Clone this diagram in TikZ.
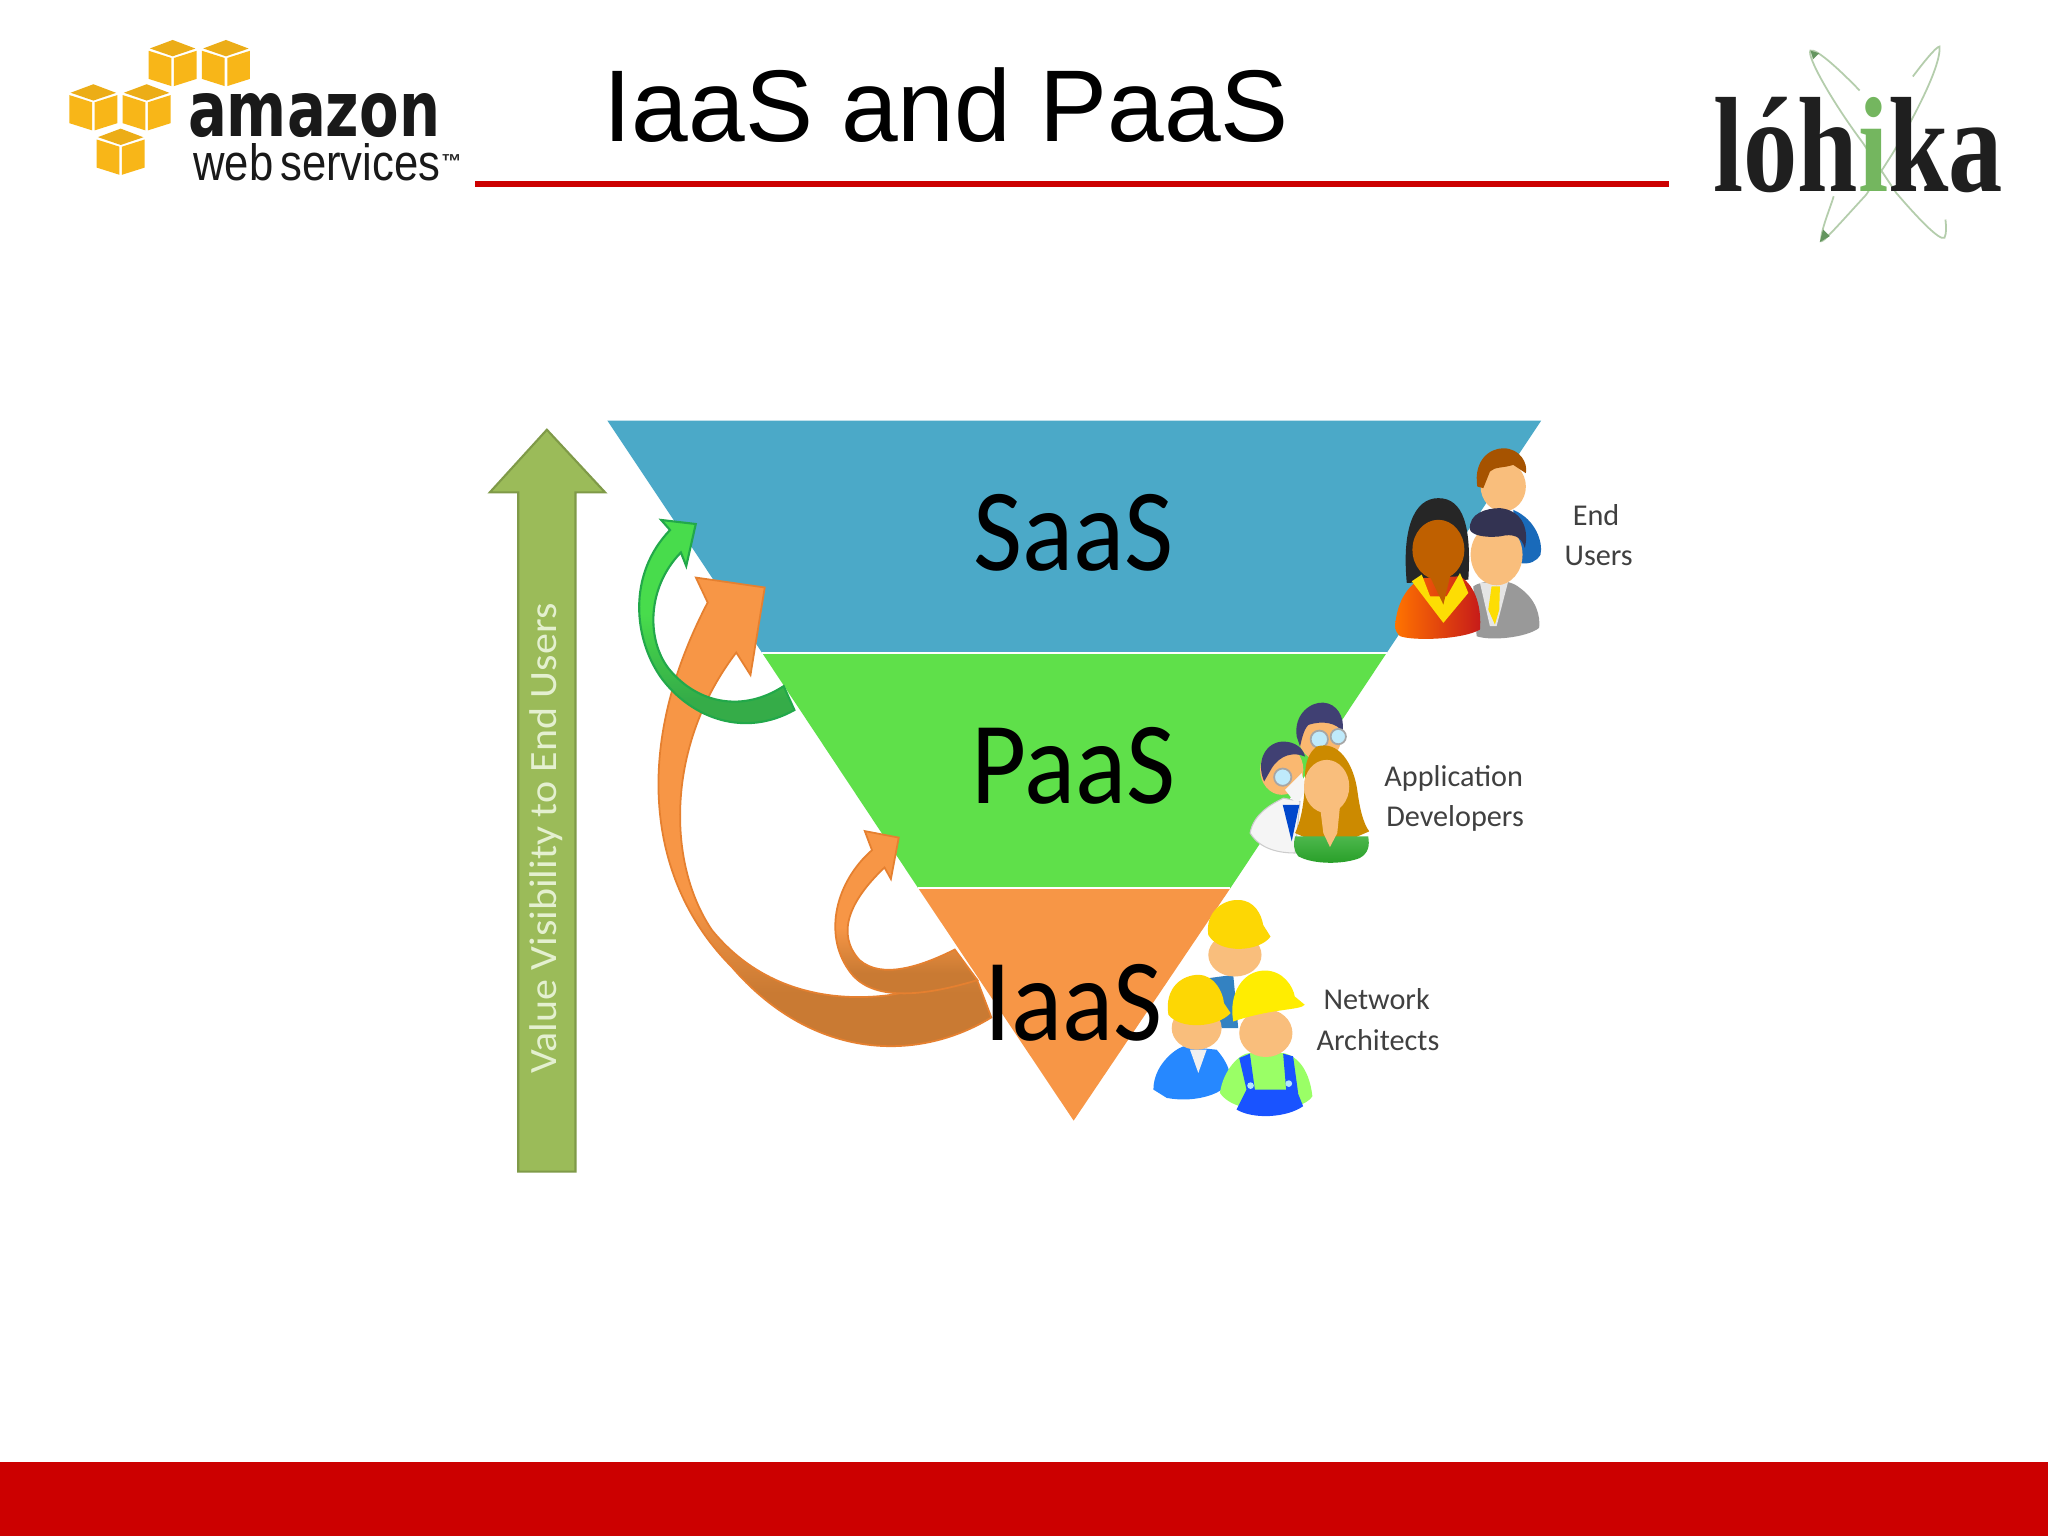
\documentclass[tikz,border=0pt]{standalone}
\usepackage{graphicx}
\usepackage{fontspec}
\setmainfont{Liberation Sans}
\newfontfamily\carl{Carlito}
\newfontfamily\lserif{Liberation Serif}
\newfontfamily\djv{DejaVu Sans}
\definecolor{saas}{HTML}{4BA9C8}
\definecolor{paas}{HTML}{5FE04A}
\definecolor{iaas}{HTML}{F79646}
\definecolor{iaasdk}{HTML}{C97A33}
\definecolor{iaasln}{HTML}{E58030}
\definecolor{grnhi}{HTML}{48DC4C}
\definecolor{grnlo}{HTML}{35AC48}
\definecolor{grnln}{HTML}{22A84A}
\definecolor{redbar}{HTML}{CC0000}
\definecolor{olive}{HTML}{9BBB59}
\definecolor{olivedk}{HTML}{7F9A48}
\definecolor{skin}{HTML}{F9BE7C}
\definecolor{cubeo}{HTML}{F8B618}
\definecolor{orbitc}{HTML}{B4CDAC}
\tikzset{
  txt/.style={inner sep=0pt,outer sep=0pt},
  person/.style={txt,font=\carl\fontsize{8.6}{10}\selectfont,text=black!75},
  layer/.style={txt,font=\carl\fontsize{33.4}{36}\selectfont,text=black},
  zoomfirst/.style={x=0.003333cm,y=-0.003333cm},
  orbit/.style={draw=orbitc,line width=0.5pt,fill=none},
}
\newcommand{\awscube}[2]{%
  \fill[cubeo!95!black] (#1,#2-13.3) -- ++(17.4,6.6) -- (#1,#2-0.8) -- ++(-17.4,-6) -- cycle;
  \fill[cubeo] (#1-18.4,#2-5) -- (#1-1,#2+0.5) -- (#1-1,#2+22) -- (#1-18.4,#2+16.5) -- cycle;
  \fill[cubeo] (#1+18.4,#2-5) -- (#1+1,#2+0.5) -- (#1+1,#2+22) -- (#1+18.4,#2+16.5) -- cycle;
}
\begin{document}
\begin{tikzpicture}[x=0.01306cm,y=-0.01306cm]
\useasboundingbox (0,0) rectangle (1568,1176);
\fill[white] (0,0) rectangle (1568,1176);
\fill[redbar] (0,1119) rectangle (1568,1176);
\fill[red!80!black] (364,138.5) rectangle (1278,143.5);
\node[txt,anchor=base west,font=\fontsize{29}{32}\selectfont] (title) at (462,108) {IaaS and PaaS};

% AWS logo
\awscube{132.2}{43.9}\awscube{173}{43.9}\awscube{71.5}{77.8}\awscube{112.3}{77.8}\awscube{92.4}{111.8}
\node[txt,anchor=south west] (amazon) at (144,105.5) {\resizebox{2.52cm}{0.43cm}{\color{black!90}\djv\bfseries amazon}};
\node[txt,anchor=south west] (webserv) at (148,138.5) {\resizebox{2.47cm}{0.37cm}{\color{black!90}web\kern-.12em\ services}};
\node[txt,anchor=base west,font=\bfseries\fontsize{5.75}{6}\selectfont,text=black!85] (tmark) at (338,129) {™};

% Lohika logo
\begin{scope}[shift={(1271,15.3)},zoomfirst]
  \draw[orbit] (600,212) .. controls (540,150) and (470,85) .. (452,92) .. controls (440,110) and (520,250) .. (610,370) -- (710,520) .. controls (770,590) and (840,665) .. (855,655) .. controls (862,640) and (860,620) .. (858,600);
  \draw[orbit] (760,170) .. controls (790,130) and (830,80) .. (840,80) .. controls (845,120) and (800,230) .. (700,400) -- (620,525) .. controls (560,590) and (490,670) .. (485,665) .. controls (480,640) and (510,570) .. (522,530);
  \fill[orbitc!80!green!70!black] (452,92) -- (478,100) -- (460,118) -- cycle;
  \fill[orbitc!80!green!70!black] (480,668) -- (490,630) -- (510,650) -- cycle;
  \node[txt,anchor=base west,font=\lserif\bfseries\fontsize{38.6}{42}\selectfont] (lohika) at (160,517) {\scalebox{.8}[1]{\color{black!88}lóh\color[HTML]{74B65F}i\color{black!88}ka}};
\end{scope}

% Funnel
\fill[saas] (465,322) -- (1180,322) -- (1061.6,500) -- (583.6,500) -- cycle;
\fill[paas] (583.6,500) -- (1061.6,500) -- (942,680) -- (703,680) -- cycle;
\fill[iaas] (703,680) -- (942,680) -- (822,858) -- cycle;
\draw[white,line width=0.7pt] (583.6,500) -- (1061.6,500);
\draw[white,line width=0.7pt] (703,680) -- (942,680);

% Left arrow
\fill[olive,draw=olivedk,line width=0.6pt] (418.7,329) -- (463.3,377) -- (440.6,377) -- (440.6,897) -- (396.8,897) -- (396.8,377) -- (375,377) -- cycle;
\node[txt,rotate=90,anchor=base,text={rgb,255:red,228;green,240;blue,208},font=\carl\fontsize{11}{12}\selectfont] (valuevis) at (426,642) {\scalebox{1.085}[1]{Value Visibility to End Users}};

% Curved arrows
\def\bigarrow{(532.8,442.2) -- (585.5,449.8) -- (574.6,516.8) -- (563.7,499.6) .. controls (510,570) and (510,660) .. (545,712) .. controls (580,755) and (630,768) .. (680,762) -- (748,750) -- (759,779) .. controls (700,815) and (620,810) .. (560,740) .. controls (500,680) and (480,580) .. (541.8,461.3) -- cycle}
\def\smallarrow{(662.1,636.3) -- (688.1,641.3) -- (682.1,673) -- (677.2,664.2) .. controls (650,690) and (640,715) .. (658,735) .. controls (675,750) and (705,740) .. (731,727) -- (748.3,750.4) .. controls (700,765) and (665,765) .. (650,743) .. controls (630,715) and (640,675) .. (667.6,650.9) -- cycle}
\def\greenarrow{(506.2,398.1) -- (532.7,401.2) -- (525.4,433.4) -- (521.3,423) .. controls (495,450) and (495,490) .. (512,512) .. controls (535,540) and (570,545) .. (600,525.3) -- (608.2,543.6) .. controls (570,565) and (530,550) .. (507,520) .. controls (485,490) and (480,440) .. (513,405.8) -- cycle}
\begin{scope}
  \clip \bigarrow;
  \fill[iaas] (480,430) rectangle (780,690);
  \shade[top color=iaas,bottom color=iaasdk] (480,690) rectangle (780,760);
  \fill[iaasdk] (480,760) rectangle (780,820);
\end{scope}
\draw[iaasln,line width=0.5pt] \bigarrow;
\begin{scope}
  \clip \smallarrow;
  \fill[iaas] (630,630) rectangle (770,710);
  \shade[top color=iaas,bottom color=iaasdk] (630,710) rectangle (770,745);
  \fill[iaasdk] (630,745) rectangle (770,780);
\end{scope}
\draw[iaasln,line width=0.5pt] \smallarrow;
\begin{scope}
  \clip \greenarrow;
  \fill[grnhi] (480,390) rectangle (620,470);
  \shade[top color=grnhi,bottom color=grnlo] (480,470) rectangle (620,535);
  \fill[grnlo] (480,535) rectangle (620,570);
\end{scope}
\draw[grnln,line width=0.6pt] \greenarrow;

% Layer labels
\node[layer,anchor=base] (saaslbl) at (822,437) {\scalebox{.91}[1]{SaaS}};
\node[layer,anchor=base] (paaslbl) at (822,615) {\scalebox{.91}[1]{PaaS}};
\node[layer,anchor=base] (iaaslbl) at (822,797) {\scalebox{.91}[1]{IaaS}};

% End users
\begin{scope}[shift={(1056.7,329.2)},zoomfirst]
  \fill[blue!50!cyan!70!black!90] (400,240) .. controls (470,270) and (490,340) .. (482,375) .. controls (470,395) and (450,405) .. (420,400) -- cycle;
  \fill[skin] (370,170) ellipse [x radius=68,y radius=75];
  \fill[orange!65!black] (292,170) .. controls (280,90) and (330,55) .. (370,55) .. controls (420,55) and (445,100) .. (438,130) -- (400,105) .. controls (370,115) and (345,110) .. (330,125) -- (310,175) -- cycle;
  \fill[black!40] (280,470) .. controls (300,455) and (380,440) .. (420,475) .. controls (470,510) and (482,560) .. (478,595) .. controls (440,625) and (330,635) .. (290,620) -- cycle;
  \fill[white!90!black] (300,460) -- (385,455) -- (350,590) -- (330,590) -- cycle;
  \fill[yellow!80!orange] (335,470) -- (360,470) -- (358,540) -- (345,585) -- (325,540) -- cycle;
  \fill[skin] (350,375) ellipse [x radius=78,y radius=92];
  \fill[black!80!blue!60!gray] (270,300) .. controls (265,250) and (320,235) .. (360,235) .. controls (420,240) and (450,290) .. (435,355) .. controls (425,320) and (400,310) .. (360,320) .. controls (310,325) and (275,315) .. (270,300) -- cycle;
  \fill[black!85] (80,460) .. controls (65,300) and (100,205) .. (175,205) .. controls (250,205) and (275,290) .. (265,450) -- cycle;
  \shade[left color=orange!90!red,right color=red!75!black!90] (45,590) .. controls (50,510) and (90,460) .. (130,445) -- (240,440) .. controls (290,470) and (305,540) .. (300,600) .. controls (250,630) and (100,635) .. (60,620) .. controls (50,612) and (45,600) .. (45,590) -- cycle;
  \fill[yellow!80!orange] (95,455) -- (190,580) -- (265,490) -- (240,430) -- (200,500) -- (150,500) -- (125,435) -- cycle;
  \fill[orange!75!black] (140,420) -- (215,420) -- (190,525) -- cycle;
  \fill[orange!75!black] (175,360) ellipse [x radius=78,y radius=90];
\end{scope}
\node[person,anchor=base] (enduser1) at (1222,402) {End};
\node[person,anchor=base] (enduser2) at (1224,433) {Users};

% Application developers
\begin{scope}[shift={(949.5,528.3)},zoomfirst]
  \fill[skin!90!orange] (240,140) ellipse [x radius=65,y radius=72];
  \fill[black!60!blue!50!gray] (170,140) .. controls (160,70) and (215,35) .. (250,38) .. controls (290,40) and (315,80) .. (308,125) .. controls (290,100) and (250,90) .. (205,105) .. controls (190,120) and (185,150) .. (180,170) -- cycle;
  \filldraw[fill=cyan!25,draw=black!35,line width=0.5pt] (238,148) circle (26) (295,140) circle (23);
  \fill[skin!90!orange] (125,240) ellipse [x radius=65,y radius=75];
  \fill[black!60!blue!50!gray] (72,275) .. controls (45,210) and (80,155) .. (130,155) .. controls (165,155) and (190,175) .. (195,200) .. controls (160,185) and (120,195) .. (95,235) -- cycle;
  \filldraw[fill=cyan!25,draw=black!35,line width=0.5pt] (128,262) circle (26);
  \fill[white!92!gray,draw=black!20,line width=0.3pt] (30,430) .. controls (40,370) and (100,340) .. (130,325) -- (180,335) -- (165,490) .. controls (120,490) and (60,480) .. (30,430) -- cycle;
  \fill[blue!65!cyan!80!black] (128,345) -- (178,345) -- (155,455) -- cycle;
  \fill[white!92!gray] (135,300) -- (185,250) -- (198,300) -- (170,345) -- cycle;
  \fill[orange!65!yellow!80!black] (230,170) .. controls (295,150) and (340,220) .. (352,300) .. controls (360,360) and (370,400) .. (388,425) -- (330,450) -- (210,450) -- (165,430) .. controls (190,380) and (195,300) .. (195,260) .. controls (195,220) and (205,190) .. (230,170) -- cycle;
  \fill[skin] (260,290) ellipse [x radius=68,y radius=80];
  \shade[top color=green!60!black!70!white,bottom color=green!55!black!85] (165,440) .. controls (210,440) and (340,440) .. (385,440) .. controls (390,470) and (385,490) .. (360,505) .. controls (310,525) and (220,525) .. (175,500) .. controls (160,485) and (160,460) .. (165,440) -- cycle;
  \fill[skin] (240,350) -- (300,350) -- (292,430) -- (270,472) -- (250,430) -- cycle;
\end{scope}
\node[person,anchor=base] (appdev1) at (1113,602) {Application};
\node[person,anchor=base] (appdev2) at (1114,633) {Developers};

% Network architects
\begin{scope}[shift={(872.9,673.8)},zoomfirst]
  \fill[blue!45!cyan!70!black!80] (205,295) -- (280,285) -- (295,445) -- (245,445) -- cycle;
  \fill[skin] (285,225) ellipse [x radius=80,y radius=65];
  \fill[yellow!75!orange] (205,165) .. controls (195,95) and (250,58) .. (295,60) .. controls (345,60) and (365,105) .. (370,135) -- (392,170) .. controls (360,215) and (240,225) .. (205,165) -- cycle;
  \fill[blue!55!cyan!85!white] (40,630) .. controls (40,560) and (100,510) .. (130,500) -- (230,510) .. controls (265,550) and (272,580) .. (270,600) .. controls (260,640) and (170,672) .. (80,655) -- cycle;
  \fill[white!88!gray] (150,510) -- (175,580) -- (200,510) -- cycle;
  \fill[skin] (170,445) ellipse [x radius=75,y radius=65];
  \fill[yellow!75!orange] (85,405) .. controls (72,320) and (130,285) .. (175,285) .. controls (225,285) and (250,340) .. (252,370) -- (272,400) .. controls (230,445) and (120,450) .. (85,405) -- cycle;
  \fill[green!55!lime!60!white] (240,640) .. controls (250,570) and (300,520) .. (330,520) -- (430,520) .. controls (480,530) and (510,580) .. (518,650) .. controls (490,700) and (290,715) .. (240,640) -- cycle;
  \fill[blue!75!cyan!90!white] (298,535) -- (330,522) -- (345,630) -- (320,630) -- cycle (430,522) -- (460,530) -- (475,640) -- (440,640) -- cycle (290,690) -- (320,630) -- (470,630) -- (490,680) .. controls (440,715) and (340,720) .. (290,690) -- cycle;
  \fill[white!70!cyan] (332,618) circle (10) (447,612) circle (10);
  \fill[skin] (378,460) ellipse [x radius=80,y radius=72];
  \fill[yellow!95!orange] (280,425) .. controls (265,340) and (310,272) .. (375,272) .. controls (430,272) and (460,320) .. (465,350) -- (495,375) .. controls (480,392) and (400,385) .. (280,425) -- cycle;
\end{scope}
\node[person,anchor=base] (netarch1) at (1054,773) {Network};
\node[person,anchor=base] (netarch2) at (1055,804) {Architects};
\end{tikzpicture}
\end{document}
